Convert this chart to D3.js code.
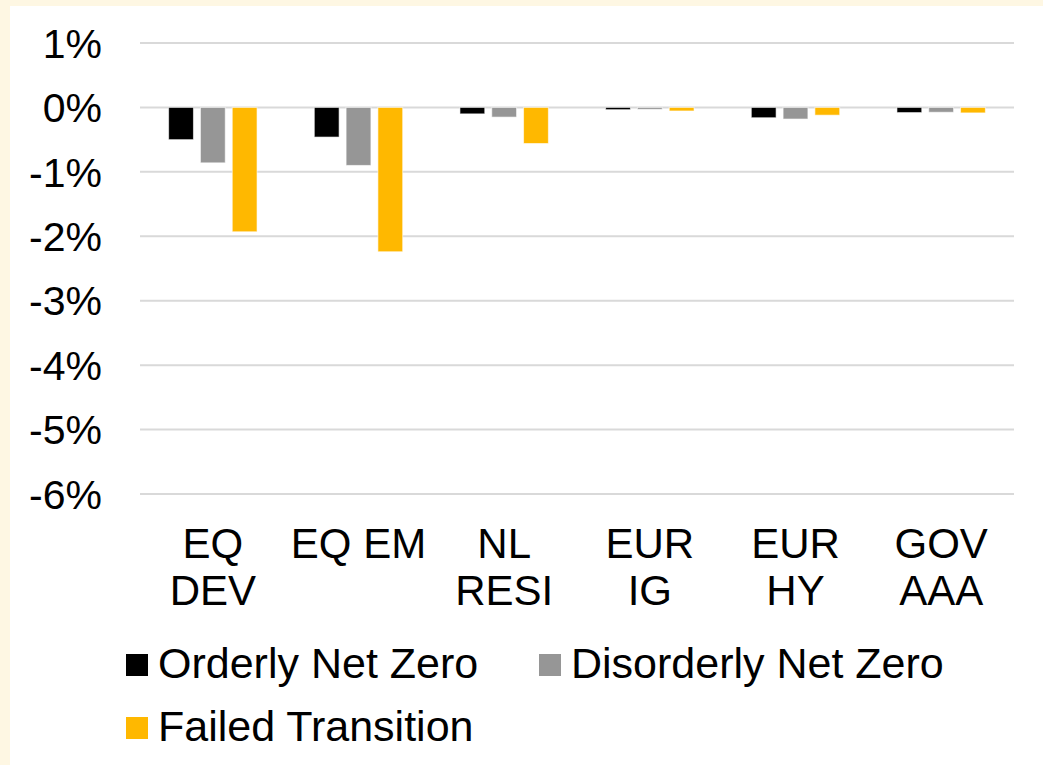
<!DOCTYPE html>
<html>
<head>
<meta charset="utf-8">
<script src="https://cdn.jsdelivr.net/npm/d3@7"></script>
<style>
  html, body { margin: 0; padding: 0; background: #fef7e3; }
  svg { display: block; font-family: "Liberation Sans", Arial, sans-serif; }
</style>
</head>
<body>
<svg id="chart"></svg>
<script>
// chart data (percent)
const categories = [["EQ", "DEV"], ["EQ EM"], ["NL", "RESI"], ["EUR", "IG"], ["EUR", "HY"], ["GOV", "AAA"]];
const seriesNames = ["Orderly Net Zero", "Disorderly Net Zero", "Failed Transition"];
const orderly    = [-0.50, -0.46, -0.10, -0.035, -0.16, -0.08];
const disorderly = [-0.86, -0.90, -0.15, -0.03, -0.18, -0.075];
const failed     = [-1.93, -2.24, -0.56, -0.055, -0.12, -0.085];
const yTicks = [1, 0, -1, -2, -3, -4, -5, -6];
const colors = ["#000000", "#969696", "#ffb800"];

const width = 1043, height = 765;
let margin = { top: 43, right: 29, bottom: 271, left: 140 };

const svg = d3.select("#chart").attr("width", width).attr("height", height);

// panel (cream strip left and top)
svg.append("rect")
    .attr("x", 10).attr("y", 6)
    .attr("width", width - 10).attr("height", height - 6)
    .attr("fill", "#ffffff");

const series = [orderly, disorderly, failed];
const idx = d3.range(categories.length);

const x = d3.scaleBand()
    .domain(idx)
    .range([margin.left, width - margin.right]);

const xInner = d3.scaleBand()
    .domain(d3.range(series.length))
    .range([0, x.bandwidth()])
    .paddingInner(0.22)
    .paddingOuter(0.9);

const y = d3.scaleLinear()
    .domain([-6, 1])
    .range([height - margin.bottom, margin.top]);

// gridlines
svg.append("g")
    .selectAll("line")
    .data(yTicks)
    .join("line")
    .attr("x1", margin.left)
    .attr("x2", width - margin.right)
    .attr("y1", d => y(d))
    .attr("y2", d => y(d))
    .attr("stroke", "#d9d9d9")
    .attr("stroke-width", 2);

// y tick labels
svg.append("g")
    .selectAll("text")
    .data(yTicks)
    .join("text")
    .attr("x", 102)
    .attr("y", d => y(d))
    .attr("dy", "0.36em")
    .attr("text-anchor", "end")
    .attr("font-size", "41px")
    .attr("fill", "#000")
    .text(d => d + "%");

// bars
series.forEach((vals, s) => {
    svg.append("g")
        .selectAll("rect")
        .data(vals)
        .join("rect")
        .attr("x", (d, i) => x(i) + xInner(s))
        .attr("width", xInner.bandwidth())
        .attr("y", d => y(Math.max(0, d)))
        .attr("height", d => Math.abs(y(d) - y(0)))
        .attr("fill", colors[s])
        .attr("stroke", "#ffffff")
        .attr("stroke-opacity", 0.6)
        .attr("stroke-width", 1);
});

// category labels
const catG = svg.append("g");
categories.forEach((lines, i) => {
    const t = catG.append("text")
        .attr("text-anchor", "middle")
        .attr("font-size", "42px")
        .attr("fill", "#000");
    lines.forEach((ln, k) => {
        t.append("tspan")
            .attr("x", x(i) + x.bandwidth() / 2)
            .attr("y", 558 + k * 47)
            .text(ln);
    });
});

// legend
const legendPos = [[126, 676], [539, 676], [126, 739]];
seriesNames.forEach((name, s) => {
    const [lx, ly] = legendPos[s];
    svg.append("rect")
        .attr("x", lx).attr("y", ly - 22)
        .attr("width", 22).attr("height", 22)
        .attr("fill", colors[s]);
    svg.append("text")
        .attr("x", lx + 32)
        .attr("y", ly + 2)
        .attr("font-size", "43px")
        .attr("fill", "#000")
        .text(name);
});
</script>
</body>
</html>
